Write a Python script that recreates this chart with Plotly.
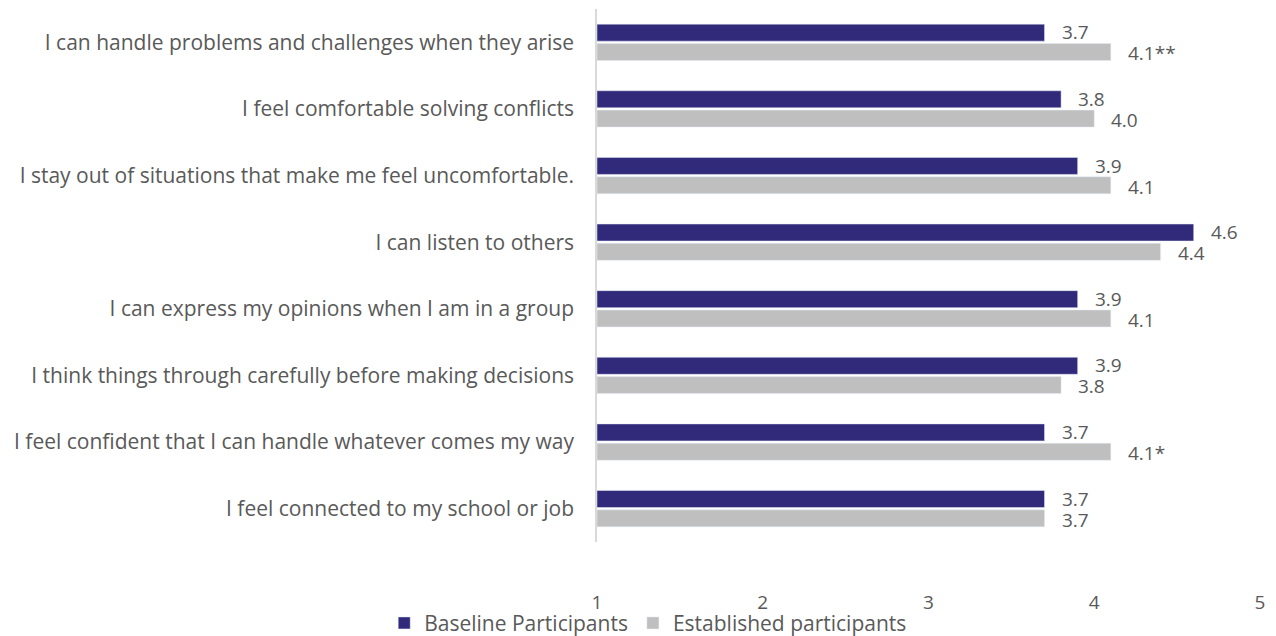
import plotly.graph_objects as go

# Survey items (top to bottom)
statements = [
    "I can handle problems and challenges when they arise",
    "I feel comfortable solving conflicts",
    "I stay out of situations that make me feel uncomfortable.",
    "I can listen to others",
    "I can express my opinions when I am in a group",
    "I think things through carefully before making decisions",
    "I feel confident that I can handle whatever comes my way",
    "I feel connected to my school or job",
]

# Mean scores on a 1-5 scale
baseline = [3.7, 3.8, 3.9, 4.6, 3.9, 3.9, 3.7, 3.7]
established = [4.1, 4.0, 4.1, 4.4, 4.1, 3.8, 4.1, 3.7]
# Significance markers for the established group
established_sig = ["**", "", "", "", "", "", "*", ""]

x_ticks = [1, 2, 3, 4, 5]

NAVY = "#312A7A"
GRAY = "#BFBFBF"
TEXT = "#595959"
FONT = "Open Sans"
SIZE = 21

fig = go.Figure()
fig.add_trace(go.Bar(
    y=statements, x=[v - 1 for v in baseline], base=1, orientation="h",
    name="Baseline Participants", marker=dict(color=NAVY),
))
fig.add_trace(go.Bar(
    y=statements, x=[v - 1 for v in established], base=1, orientation="h",
    name="Established participants", marker=dict(color=GRAY),
))

# Value labels to the right of each bar
for s, v in zip(statements, baseline):
    fig.add_annotation(x=v, y=s, text=f"{v:.1f}", showarrow=False,
                       xanchor="left", yanchor="middle", xshift=15, yshift=10,
                       font=dict(size=19, color=TEXT, family=FONT))
for s, v, sig in zip(statements, established, established_sig):
    fig.add_annotation(x=v, y=s, text=f"{v:.1f}{sig}", showarrow=False,
                       xanchor="left", yanchor="middle", xshift=15, yshift=-11,
                       font=dict(size=19, color=TEXT, family=FONT))

fig.update_layout(
    width=1276, height=636,
    margin=dict(l=597, r=16, t=9, b=94, autoexpand=False),
    paper_bgcolor="white", plot_bgcolor="white",
    barmode="group", bargap=0.42, bargroupgap=0.12,
    font=dict(family=FONT, size=SIZE, color=TEXT),
    showlegend=True,
    legend=dict(orientation="h", xref="container", yref="container",
                x=0.508, xanchor="center", y=0.02, yanchor="middle",
                bgcolor="rgba(0,0,0,0)",
                font=dict(size=SIZE, color=TEXT, family=FONT),
                itemwidth=30, traceorder="normal"),
    xaxis=dict(range=[1, 5], tickvals=x_ticks, showgrid=False, zeroline=False,
               showline=False, ticks="", ticklabelstandoff=47, automargin=False,
               tickfont=dict(size=19, color=TEXT, family=FONT)),
    yaxis=dict(autorange="reversed", showgrid=False, zeroline=False,
               showline=True, linecolor="#D9D9D9", linewidth=1.5, ticks="",
               ticklabelstandoff=17, automargin=False,
               tickfont=dict(size=SIZE, color=TEXT, family=FONT)),
)

fig.write_html("out.html")
